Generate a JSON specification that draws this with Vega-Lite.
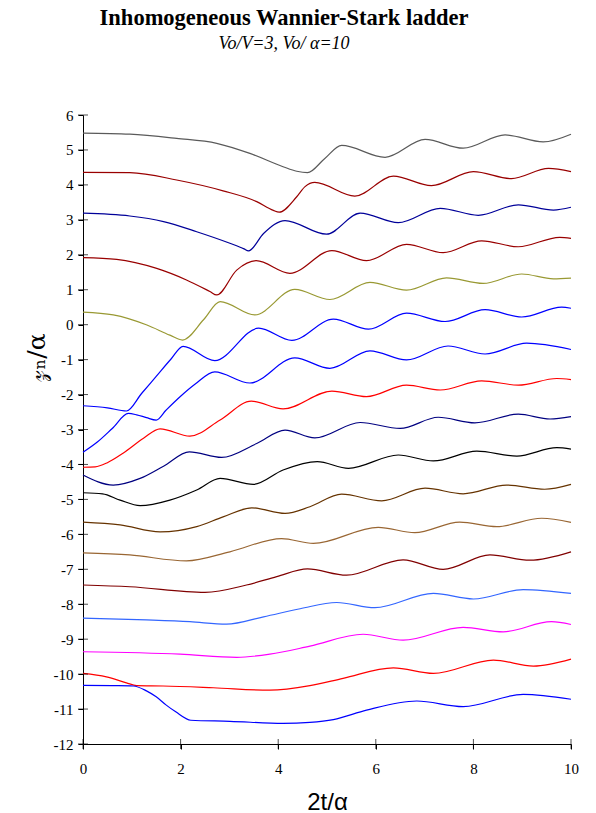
{
  "$schema": "https://vega.github.io/schema/vega-lite/v6.json",
  "width": 488,
  "height": 629,
  "autosize": "none",
  "padding": {"left": 83, "top": 115, "right": 25, "bottom": 69},
  "background": "white",
  "config": {"view": {"stroke": null}, "axis": {"grid": false, "labelOverlap": false, "labelFlush": false}},
  "title": {
    "text": "Inhomogeneous Wannier-Stark ladder",
    "subtitle": "Vo/V=3, Vo/ α=10",
    "font": "Liberation Serif",
    "fontSize": 22.5,
    "fontWeight": "bold",
    "color": "black",
    "subtitleFont": "Liberation Serif",
    "subtitleFontSize": 18,
    "subtitleFontStyle": "italic",
    "subtitleColor": "black",
    "subtitlePadding": 6,
    "anchor": "middle",
    "frame": "group",
    "dx": -43,
    "offset": 55
  },
  "datasets": {
    "curves": [
      {"s": "c01", "x": 0, "y": 5.48}, {"s": "c01", "x": 0.96, "y": 5.45}, {"s": "c01", "x": 1.92, "y": 5.33}, {"s": "c01", "x": 2.74, "y": 5.19}, {"s": "c01", "x": 3.42, "y": 4.9}, {"s": "c01", "x": 4.1, "y": 4.52}, {"s": "c01", "x": 4.38, "y": 4.39}, {"s": "c01", "x": 4.6, "y": 4.35}, {"s": "c01", "x": 4.95, "y": 4.75}, {"s": "c01", "x": 5.3, "y": 5.13}, {"s": "c01", "x": 6.19, "y": 4.79}, {"s": "c01", "x": 7.01, "y": 5.3}, {"s": "c01", "x": 7.79, "y": 5.05}, {"s": "c01", "x": 8.65, "y": 5.43}, {"s": "c01", "x": 9.43, "y": 5.23}, {"s": "c01", "x": 10, "y": 5.45},
      {"s": "c02", "x": 0, "y": 4.36}, {"s": "c02", "x": 0.96, "y": 4.35}, {"s": "c02", "x": 1.92, "y": 4.14}, {"s": "c02", "x": 2.87, "y": 3.83}, {"s": "c02", "x": 3.56, "y": 3.52}, {"s": "c02", "x": 3.9, "y": 3.27}, {"s": "c02", "x": 4.02, "y": 3.22}, {"s": "c02", "x": 4.38, "y": 3.66}, {"s": "c02", "x": 4.55, "y": 3.95}, {"s": "c02", "x": 4.75, "y": 4.07}, {"s": "c02", "x": 5.57, "y": 3.68}, {"s": "c02", "x": 6.36, "y": 4.25}, {"s": "c02", "x": 7.14, "y": 3.98}, {"s": "c02", "x": 8.0, "y": 4.38}, {"s": "c02", "x": 8.78, "y": 4.18}, {"s": "c02", "x": 9.54, "y": 4.47}, {"s": "c02", "x": 10, "y": 4.38},
      {"s": "c03", "x": 0, "y": 3.19}, {"s": "c03", "x": 0.96, "y": 3.11}, {"s": "c03", "x": 1.65, "y": 2.95}, {"s": "c03", "x": 2.33, "y": 2.66}, {"s": "c03", "x": 3.01, "y": 2.33}, {"s": "c03", "x": 3.3, "y": 2.17}, {"s": "c03", "x": 3.39, "y": 2.11}, {"s": "c03", "x": 3.7, "y": 2.61}, {"s": "c03", "x": 4.14, "y": 2.98}, {"s": "c03", "x": 4.99, "y": 2.59}, {"s": "c03", "x": 5.68, "y": 3.19}, {"s": "c03", "x": 6.46, "y": 2.92}, {"s": "c03", "x": 7.32, "y": 3.33}, {"s": "c03", "x": 8.1, "y": 3.13}, {"s": "c03", "x": 8.92, "y": 3.43}, {"s": "c03", "x": 9.64, "y": 3.28}, {"s": "c03", "x": 10, "y": 3.36},
      {"s": "c04", "x": 0, "y": 1.92}, {"s": "c04", "x": 0.69, "y": 1.87}, {"s": "c04", "x": 1.51, "y": 1.61}, {"s": "c04", "x": 2.12, "y": 1.28}, {"s": "c04", "x": 2.6, "y": 0.95}, {"s": "c04", "x": 2.74, "y": 0.85}, {"s": "c04", "x": 3.15, "y": 1.56}, {"s": "c04", "x": 3.55, "y": 1.83}, {"s": "c04", "x": 4.24, "y": 1.47}, {"s": "c04", "x": 5.1, "y": 2.12}, {"s": "c04", "x": 5.81, "y": 1.83}, {"s": "c04", "x": 6.63, "y": 2.3}, {"s": "c04", "x": 7.38, "y": 2.06}, {"s": "c04", "x": 8.17, "y": 2.4}, {"s": "c04", "x": 8.92, "y": 2.23}, {"s": "c04", "x": 9.77, "y": 2.5}, {"s": "c04", "x": 10, "y": 2.47},
      {"s": "c05", "x": 0, "y": 0.36}, {"s": "c05", "x": 0.62, "y": 0.28}, {"s": "c05", "x": 1.31, "y": -0.01}, {"s": "c05", "x": 1.78, "y": -0.3}, {"s": "c05", "x": 2.04, "y": -0.44}, {"s": "c05", "x": 2.47, "y": 0.14}, {"s": "c05", "x": 2.81, "y": 0.66}, {"s": "c05", "x": 3.52, "y": 0.28}, {"s": "c05", "x": 4.34, "y": 1.01}, {"s": "c05", "x": 5.06, "y": 0.72}, {"s": "c05", "x": 5.88, "y": 1.21}, {"s": "c05", "x": 6.63, "y": 0.99}, {"s": "c05", "x": 7.45, "y": 1.34}, {"s": "c05", "x": 8.2, "y": 1.18}, {"s": "c05", "x": 8.99, "y": 1.45}, {"s": "c05", "x": 9.64, "y": 1.31}, {"s": "c05", "x": 10, "y": 1.33},
      {"s": "c06", "x": 0, "y": -2.32}, {"s": "c06", "x": 0.5, "y": -2.38}, {"s": "c06", "x": 0.89, "y": -2.47}, {"s": "c06", "x": 1.2, "y": -1.97}, {"s": "c06", "x": 1.5, "y": -1.48}, {"s": "c06", "x": 1.8, "y": -0.99}, {"s": "c06", "x": 2.05, "y": -0.62}, {"s": "c06", "x": 2.7, "y": -1.03}, {"s": "c06", "x": 3.6, "y": -0.1}, {"s": "c06", "x": 4.28, "y": -0.45}, {"s": "c06", "x": 5.13, "y": 0.16}, {"s": "c06", "x": 5.85, "y": -0.13}, {"s": "c06", "x": 6.63, "y": 0.33}, {"s": "c06", "x": 7.42, "y": 0.09}, {"s": "c06", "x": 8.24, "y": 0.43}, {"s": "c06", "x": 8.99, "y": 0.22}, {"s": "c06", "x": 9.81, "y": 0.5}, {"s": "c06", "x": 10, "y": 0.47},
      {"s": "c07", "x": 0, "y": -3.65}, {"s": "c07", "x": 0.3, "y": -3.35}, {"s": "c07", "x": 0.6, "y": -2.97}, {"s": "c07", "x": 0.93, "y": -2.54}, {"s": "c07", "x": 1.1, "y": -2.58}, {"s": "c07", "x": 1.3, "y": -2.66}, {"s": "c07", "x": 1.5, "y": -2.73}, {"s": "c07", "x": 1.7, "y": -2.45}, {"s": "c07", "x": 2.0, "y": -2.05}, {"s": "c07", "x": 2.3, "y": -1.7}, {"s": "c07", "x": 2.7, "y": -1.35}, {"s": "c07", "x": 3.42, "y": -1.67}, {"s": "c07", "x": 4.34, "y": -0.95}, {"s": "c07", "x": 5.06, "y": -1.25}, {"s": "c07", "x": 5.88, "y": -0.75}, {"s": "c07", "x": 6.63, "y": -1.01}, {"s": "c07", "x": 7.48, "y": -0.61}, {"s": "c07", "x": 8.24, "y": -0.84}, {"s": "c07", "x": 9.09, "y": -0.53}, {"s": "c07", "x": 10, "y": -0.71},
      {"s": "c08", "x": 0, "y": -4.08}, {"s": "c08", "x": 0.25, "y": -4.07}, {"s": "c08", "x": 0.5, "y": -3.95}, {"s": "c08", "x": 0.82, "y": -3.68}, {"s": "c08", "x": 1.24, "y": -3.25}, {"s": "c08", "x": 1.58, "y": -2.98}, {"s": "c08", "x": 2.19, "y": -3.19}, {"s": "c08", "x": 2.81, "y": -2.73}, {"s": "c08", "x": 3.45, "y": -2.19}, {"s": "c08", "x": 4.1, "y": -2.41}, {"s": "c08", "x": 5.1, "y": -1.9}, {"s": "c08", "x": 5.81, "y": -2.06}, {"s": "c08", "x": 6.63, "y": -1.73}, {"s": "c08", "x": 7.32, "y": -1.87}, {"s": "c08", "x": 8.17, "y": -1.61}, {"s": "c08", "x": 8.92, "y": -1.73}, {"s": "c08", "x": 9.71, "y": -1.54}, {"s": "c08", "x": 10, "y": -1.57},
      {"s": "c09", "x": 0, "y": -4.3}, {"s": "c09", "x": 0.62, "y": -4.59}, {"s": "c09", "x": 1.17, "y": -4.4}, {"s": "c09", "x": 1.65, "y": -4.05}, {"s": "c09", "x": 2.18, "y": -3.64}, {"s": "c09", "x": 2.84, "y": -3.8}, {"s": "c09", "x": 3.56, "y": -3.4}, {"s": "c09", "x": 4.14, "y": -3.02}, {"s": "c09", "x": 4.75, "y": -3.24}, {"s": "c09", "x": 5.68, "y": -2.8}, {"s": "c09", "x": 6.5, "y": -2.97}, {"s": "c09", "x": 7.28, "y": -2.65}, {"s": "c09", "x": 8.03, "y": -2.81}, {"s": "c09", "x": 8.92, "y": -2.56}, {"s": "c09", "x": 9.57, "y": -2.7}, {"s": "c09", "x": 10, "y": -2.63},
      {"s": "c10", "x": 0, "y": -4.81}, {"s": "c10", "x": 0.4, "y": -4.84}, {"s": "c10", "x": 0.76, "y": -5.02}, {"s": "c10", "x": 1.17, "y": -5.18}, {"s": "c10", "x": 1.78, "y": -5.02}, {"s": "c10", "x": 2.33, "y": -4.73}, {"s": "c10", "x": 2.81, "y": -4.4}, {"s": "c10", "x": 3.49, "y": -4.57}, {"s": "c10", "x": 4.1, "y": -4.16}, {"s": "c10", "x": 4.8, "y": -3.92}, {"s": "c10", "x": 5.44, "y": -4.11}, {"s": "c10", "x": 6.46, "y": -3.73}, {"s": "c10", "x": 7.18, "y": -3.9}, {"s": "c10", "x": 8.07, "y": -3.62}, {"s": "c10", "x": 8.89, "y": -3.76}, {"s": "c10", "x": 9.71, "y": -3.52}, {"s": "c10", "x": 10, "y": -3.56},
      {"s": "c11", "x": 0, "y": -5.65}, {"s": "c11", "x": 0.76, "y": -5.73}, {"s": "c11", "x": 1.58, "y": -5.93}, {"s": "c11", "x": 2.33, "y": -5.78}, {"s": "c11", "x": 2.87, "y": -5.5}, {"s": "c11", "x": 3.46, "y": -5.24}, {"s": "c11", "x": 4.14, "y": -5.4}, {"s": "c11", "x": 4.65, "y": -5.21}, {"s": "c11", "x": 5.3, "y": -4.85}, {"s": "c11", "x": 6.12, "y": -5.04}, {"s": "c11", "x": 7.01, "y": -4.68}, {"s": "c11", "x": 7.79, "y": -4.84}, {"s": "c11", "x": 8.68, "y": -4.59}, {"s": "c11", "x": 9.46, "y": -4.71}, {"s": "c11", "x": 10, "y": -4.57},
      {"s": "c12", "x": 0, "y": -6.53}, {"s": "c12", "x": 0.96, "y": -6.59}, {"s": "c12", "x": 2.12, "y": -6.76}, {"s": "c12", "x": 3.01, "y": -6.5}, {"s": "c12", "x": 4.07, "y": -6.12}, {"s": "c12", "x": 4.72, "y": -6.26}, {"s": "c12", "x": 6.05, "y": -5.8}, {"s": "c12", "x": 6.8, "y": -5.95}, {"s": "c12", "x": 7.72, "y": -5.65}, {"s": "c12", "x": 8.48, "y": -5.78}, {"s": "c12", "x": 9.4, "y": -5.54}, {"s": "c12", "x": 10, "y": -5.66},
      {"s": "c13", "x": 0, "y": -7.45}, {"s": "c13", "x": 0.96, "y": -7.5}, {"s": "c13", "x": 2.5, "y": -7.66}, {"s": "c13", "x": 3.35, "y": -7.45}, {"s": "c13", "x": 3.97, "y": -7.21}, {"s": "c13", "x": 4.6, "y": -6.99}, {"s": "c13", "x": 5.4, "y": -7.17}, {"s": "c13", "x": 6.56, "y": -6.73}, {"s": "c13", "x": 7.38, "y": -7.0}, {"s": "c13", "x": 8.34, "y": -6.59}, {"s": "c13", "x": 9.16, "y": -6.74}, {"s": "c13", "x": 10, "y": -6.5},
      {"s": "c14", "x": 0, "y": -8.4}, {"s": "c14", "x": 1.3, "y": -8.45}, {"s": "c14", "x": 2.19, "y": -8.5}, {"s": "c14", "x": 2.94, "y": -8.57}, {"s": "c14", "x": 3.7, "y": -8.36}, {"s": "c14", "x": 4.45, "y": -8.13}, {"s": "c14", "x": 5.2, "y": -7.95}, {"s": "c14", "x": 5.98, "y": -8.1}, {"s": "c14", "x": 7.18, "y": -7.69}, {"s": "c14", "x": 8.0, "y": -7.85}, {"s": "c14", "x": 9.02, "y": -7.58}, {"s": "c14", "x": 10, "y": -7.69},
      {"s": "c15", "x": 0, "y": -9.36}, {"s": "c15", "x": 1.99, "y": -9.43}, {"s": "c15", "x": 3.15, "y": -9.52}, {"s": "c15", "x": 3.83, "y": -9.43}, {"s": "c15", "x": 4.65, "y": -9.2}, {"s": "c15", "x": 5.74, "y": -8.86}, {"s": "c15", "x": 6.56, "y": -9.03}, {"s": "c15", "x": 7.79, "y": -8.66}, {"s": "c15", "x": 8.61, "y": -8.79}, {"s": "c15", "x": 9.6, "y": -8.5}, {"s": "c15", "x": 10, "y": -8.58},
      {"s": "c16", "x": 0, "y": -9.98}, {"s": "c16", "x": 0.48, "y": -10.08}, {"s": "c16", "x": 0.89, "y": -10.25}, {"s": "c16", "x": 1.1, "y": -10.33}, {"s": "c16", "x": 1.64, "y": -10.34}, {"s": "c16", "x": 2.67, "y": -10.39}, {"s": "c16", "x": 3.83, "y": -10.46}, {"s": "c16", "x": 4.65, "y": -10.33}, {"s": "c16", "x": 5.33, "y": -10.12}, {"s": "c16", "x": 6.36, "y": -9.82}, {"s": "c16", "x": 7.18, "y": -9.98}, {"s": "c16", "x": 8.41, "y": -9.6}, {"s": "c16", "x": 9.23, "y": -9.77}, {"s": "c16", "x": 10, "y": -9.57},
      {"s": "c17", "x": 0, "y": -10.32}, {"s": "c17", "x": 0.6, "y": -10.33}, {"s": "c17", "x": 1.03, "y": -10.34}, {"s": "c17", "x": 1.3, "y": -10.48}, {"s": "c17", "x": 1.5, "y": -10.65}, {"s": "c17", "x": 1.7, "y": -10.88}, {"s": "c17", "x": 1.9, "y": -11.08}, {"s": "c17", "x": 2.21, "y": -11.32}, {"s": "c17", "x": 3.01, "y": -11.35}, {"s": "c17", "x": 4.1, "y": -11.41}, {"s": "c17", "x": 4.65, "y": -11.38}, {"s": "c17", "x": 5.13, "y": -11.3}, {"s": "c17", "x": 5.81, "y": -11.03}, {"s": "c17", "x": 6.84, "y": -10.77}, {"s": "c17", "x": 7.79, "y": -10.93}, {"s": "c17", "x": 9.02, "y": -10.58}, {"s": "c17", "x": 10, "y": -10.72}
    ],
    "xticks": [{"x": 0}, {"x": 2}, {"x": 4}, {"x": 6}, {"x": 8}, {"x": 10}],
    "yticks": [{"y": -12}, {"y": -11}, {"y": -10}, {"y": -9}, {"y": -8}, {"y": -7}, {"y": -6}, {"y": -5}, {"y": -4}, {"y": -3}, {"y": -2}, {"y": -1}, {"y": 0}, {"y": 1}, {"y": 2}, {"y": 3}, {"y": 4}, {"y": 5}, {"y": 6}]
  },
  "layer": [
    {
      "data": {"name": "curves"},
      "mark": {"type": "line", "interpolate": "monotone", "strokeWidth": 1.2},
      "encoding": {
        "x": {
          "field": "x", "type": "quantitative",
          "scale": {"domain": [0, 10], "nice": false, "zero": false},
          "axis": {
            "values": [0, 2, 4, 6, 8, 10],
            "labelOverlap": false, "labelFlush": false,
            "domainColor": "black", "tickColor": "black", "tickSize": 5,
            "labelFont": "Liberation Serif", "labelFontSize": 15, "labelColor": "black", "labelPadding": 12,
            "title": "2t/α", "titleFont": "Liberation Sans", "titleFontSize": 24, "titleFontWeight": "normal", "titleColor": "black",
            "titleBaseline": "alphabetic", "titleY": 65
          }
        },
        "y": {
          "field": "y", "type": "quantitative",
          "scale": {"domain": [-12, 6], "nice": false, "zero": false},
          "axis": {
            "values": [-12, -11, -10, -9, -8, -7, -6, -5, -4, -3, -2, -1, 0, 1, 2, 3, 4, 5, 6],
            "labelOverlap": false, "labelFlush": false,
            "labelExpr": "datum.value < 0 ? '-' + abs(datum.value) : '' + datum.value",
            "domainColor": "black", "tickColor": "black", "tickSize": 5,
            "labelFont": "Liberation Serif", "labelFontSize": 15, "labelColor": "black", "labelPadding": 5,
            "title": "𝓏ₙ/α", "titleFont": "DejaVu Serif", "titleFontSize": 25, "titleFontWeight": "normal", "titleColor": "black",
            "titleAngle": -90, "titleBaseline": "alphabetic", "titleAlign": "center", "titleX": -39, "titleY": 242
          }
        },
        "color": {
          "field": "s", "type": "nominal", "legend": null,
          "scale": {
            "domain": ["c01", "c02", "c03", "c04", "c05", "c06", "c07", "c08", "c09", "c10", "c11", "c12", "c13", "c14", "c15", "c16", "c17"],
            "range": ["#5a5a5a", "#990000", "#000099", "#990000", "#999933", "#0000ff", "#0000ff", "#ff0000", "#000080", "#000000", "#663300", "#996633", "#800000", "#3366ff", "#ff00ff", "#ff0000", "#0000ff"]
          }
        }
      }
    },
    {
      "data": {"name": "xticks"},
      "mark": {"type": "tick", "orient": "vertical", "size": 10, "thickness": 1, "color": "black"},
      "encoding": {
        "x": {
          "field": "x", "type": "quantitative",
          "axis": {
            "values": [0, 2, 4, 6, 8, 10],
            "labelOverlap": false, "labelFlush": false,
            "domainColor": "black", "tickColor": "black", "tickSize": 5,
            "labelFont": "Liberation Serif", "labelFontSize": 15, "labelColor": "black", "labelPadding": 12,
            "title": "2t/α", "titleFont": "Liberation Sans", "titleFontSize": 24, "titleFontWeight": "normal", "titleColor": "black",
            "titleBaseline": "alphabetic", "titleY": 65
          }
        },
        "y": {
          "datum": -12, "type": "quantitative",
          "axis": {
            "values": [-12, -11, -10, -9, -8, -7, -6, -5, -4, -3, -2, -1, 0, 1, 2, 3, 4, 5, 6],
            "labelOverlap": false, "labelFlush": false,
            "labelExpr": "datum.value < 0 ? '-' + abs(datum.value) : '' + datum.value",
            "domainColor": "black", "tickColor": "black", "tickSize": 5,
            "labelFont": "Liberation Serif", "labelFontSize": 15, "labelColor": "black", "labelPadding": 5,
            "title": "𝓏ₙ/α", "titleFont": "DejaVu Serif", "titleFontSize": 25, "titleFontWeight": "normal", "titleColor": "black",
            "titleAngle": -90, "titleBaseline": "alphabetic", "titleAlign": "center", "titleX": -39, "titleY": 242
          }
        }
      }
    },
    {
      "data": {"name": "yticks"},
      "mark": {"type": "tick", "orient": "horizontal", "size": 10, "thickness": 1, "color": "black"},
      "encoding": {
        "y": {
          "field": "y", "type": "quantitative",
          "axis": {
            "values": [-12, -11, -10, -9, -8, -7, -6, -5, -4, -3, -2, -1, 0, 1, 2, 3, 4, 5, 6],
            "labelOverlap": false, "labelFlush": false,
            "labelExpr": "datum.value < 0 ? '-' + abs(datum.value) : '' + datum.value",
            "domainColor": "black", "tickColor": "black", "tickSize": 5,
            "labelFont": "Liberation Serif", "labelFontSize": 15, "labelColor": "black", "labelPadding": 5,
            "title": "𝓏ₙ/α", "titleFont": "DejaVu Serif", "titleFontSize": 25, "titleFontWeight": "normal", "titleColor": "black",
            "titleAngle": -90, "titleBaseline": "alphabetic", "titleAlign": "center", "titleX": -39, "titleY": 242
          }
        },
        "x": {
          "datum": 0, "type": "quantitative",
          "axis": {
            "values": [0, 2, 4, 6, 8, 10],
            "labelOverlap": false, "labelFlush": false,
            "domainColor": "black", "tickColor": "black", "tickSize": 5,
            "labelFont": "Liberation Serif", "labelFontSize": 15, "labelColor": "black", "labelPadding": 12,
            "title": "2t/α", "titleFont": "Liberation Sans", "titleFontSize": 24, "titleFontWeight": "normal", "titleColor": "black",
            "titleBaseline": "alphabetic", "titleY": 65
          }
        }
      }
    }
  ]
}
